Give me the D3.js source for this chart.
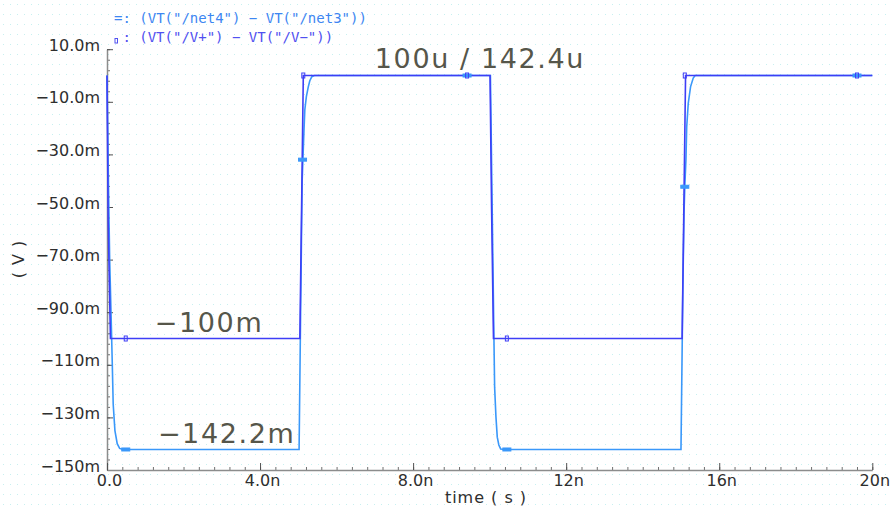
<!DOCTYPE html>
<html>
<head>
<meta charset="utf-8">
<script src="https://cdn.jsdelivr.net/npm/d3@7"></script>
<style>
  html, body { margin: 0; padding: 0; background: #ffffff; }
  svg { display: block; }
</style>
</head>
<body>
<svg id="chart" width="892" height="514"></svg>
<script>
// ---- data (time in ns, voltage in mV) ----
const darkTime  = [0, 0.03, 0.09, 5.04, 5.09, 5.13, 10.01, 10.05, 10.1, 15.03, 15.08, 15.12, 20];
const darkValue = [0, -55, -100, -100, -45, 0, 0, -50, -100, -100, -45, 0, 0];

const lightTime  = [0, 0.04, 0.07, 0.11, 0.137, 0.162, 0.207, 0.267, 0.33, 0.42,
                    5.02, 5.06, 5.1, 5.12, 5.15, 5.17, 5.21, 5.26, 5.3, 5.35, 5.42,
                    10.02, 10.07, 10.112, 10.13, 10.165, 10.199, 10.24, 10.288, 10.4,
                    15.0, 15.05, 15.08, 15.1, 15.13, 15.15, 15.19, 15.25, 15.32, 15.37, 20];
const lightValue = [0, -43, -70, -93, -109, -125, -135, -140, -141.8, -142.2,
                    -142.2, -90, -40, -32, -20, -13, -8, -4.3, -2, -0.5, 0,
                    0, -55, -100, -118.5, -129.9, -137.5, -140.5, -142, -142.2,
                    -142.2, -80, -52, -42.3, -32, -19.5, -10.6, -4.3, -1, 0, 0];

const darkMarkTime   = [0.49, 5.13, 9.41, 10.45, 15.1, 19.6];
const darkMarkValue  = [-100, 0, 0, -100, 0, 0];
const lightMarkTime  = [0.49, 5.11, 9.41, 10.45, 15.1, 19.6];
const lightMarkValue = [-142.2, -32, 0, -142.2, -42.3, 0];

const yTickValues = [10, -10, -30, -50, -70, -90, -110, -130, -150];
const yTickLabels = ["10.0m", "\u221210.0m", "\u221230.0m", "\u221250.0m", "\u221270.0m",
                     "\u221290.0m", "\u2212110m", "\u2212130m", "\u2212150m"];
const xTickValues = [0, 4, 8, 12, 16, 20];
const xTickLabels = ["0.0", "4.0n", "8.0n", "12n", "16n", "20n"];

const legendLabels = ["=: (VT(\"/net4\") \u2212 VT(\"/net3\"))",
                      ": (VT(\"/V+\") \u2212 VT(\"/V\u2212\"))"];
const annotations = [
  {text: "100u / 142.4u", t: 7.0, v: 2.8},
  {text: "\u2212100m", t: 1.25, v: -97.6},
  {text: "\u2212142.2m", t: 1.33, v: -139.9}
];

// ---- layout ----
const svg = d3.select("#chart");
const colDark = "#3e3ef6";
const colLight = "#3a98fa";
const textCol = "#2e2e2e";
const annCol = "#56564a";

const x = d3.scaleLinear().domain([0, 20]).range([107, 872.3]);
const y = d3.scaleLinear().domain([10, -150]).range([49.2, 470]);

// background dotted grid
const defs = svg.append("defs");
const pat = defs.append("pattern").attr("id", "dots")
  .attr("patternUnits", "userSpaceOnUse").attr("width", 7).attr("height", 10);
pat.append("rect").attr("x", 3).attr("y", 4).attr("width", 1).attr("height", 1)
  .attr("fill", "#c6f0f0");
svg.append("rect").attr("width", 892).attr("height", 514).attr("fill", "#ffffff");
svg.append("rect").attr("width", 892).attr("height", 514).attr("fill", "url(#dots)");

// axes
const fontMain = "'DejaVu Sans', sans-serif";

const yMinor = d3.range(10, -150.01, -4);
svg.append("g").attr("transform", `translate(${x(0)},0)`)
  .call(d3.axisLeft(y).tickValues(yMinor).tickSizeInner(-3).tickSizeOuter(0).tickFormat(""))
  .call(g => g.select(".domain").remove())
  .call(g => g.selectAll("line").attr("stroke", "#707070"));

const yAxis = svg.append("g").attr("transform", `translate(${x(0)},0)`)
  .call(d3.axisLeft(y).tickValues(yTickValues).tickSizeInner(-6).tickSizeOuter(0)
        .tickPadding(7).tickFormat((d, i) => yTickLabels[i]));
yAxis.select(".domain").attr("stroke", "#8c8c8c").attr("stroke-width", 1.5);
yAxis.selectAll("line").attr("stroke", "#505050");
yAxis.selectAll("text").attr("font-family", fontMain).attr("font-size", 16)
  .attr("fill", textCol).attr("y", -4);

const xMinor = d3.range(0, 20.001, 0.4);
svg.append("g").attr("transform", `translate(0,${y(-150)})`)
  .call(d3.axisBottom(x).tickValues(xMinor).tickSizeInner(-3).tickSizeOuter(0).tickFormat(""))
  .call(g => g.select(".domain").remove())
  .call(g => g.selectAll("line").attr("stroke", "#707070"));

const xAxis = svg.append("g").attr("transform", `translate(0,${y(-150)})`)
  .call(d3.axisBottom(x).tickValues(xTickValues).tickSizeInner(-7).tickSizeOuter(0)
        .tickPadding(5).tickFormat((d, i) => xTickLabels[i]));
xAxis.select(".domain").attr("stroke", "#8c8c8c").attr("stroke-width", 1.5);
xAxis.selectAll("line").attr("stroke", "#505050");
xAxis.selectAll("text").attr("font-family", fontMain).attr("font-size", 16)
  .attr("fill", textCol).attr("dx", 2);

// axis titles
svg.append("text").attr("x", 486).attr("y", 503).attr("text-anchor", "middle")
  .attr("font-family", fontMain).attr("font-size", 16).attr("letter-spacing", 1)
  .attr("fill", textCol).text("time ( s )");
svg.append("text").attr("transform", "translate(24,259) rotate(-90)")
  .attr("text-anchor", "middle").attr("font-family", fontMain).attr("font-size", 16)
  .attr("letter-spacing", 1).attr("fill", textCol).text("( V )");

// lines
const lightData = lightTime.map((t, i) => [t, lightValue[i]]);
const darkData = darkTime.map((t, i) => [t, darkValue[i]]);
const line = d3.line().x(d => x(d[0])).y(d => y(d[1]));

svg.append("path").datum(lightData).attr("d", line).attr("fill", "none")
  .attr("stroke", colLight).attr("stroke-width", 1.6);
svg.append("path").datum(darkData).attr("d", line).attr("fill", "none")
  .attr("stroke", colDark).attr("stroke-width", 1.6);

// markers
svg.append("g").selectAll("rect").data(lightMarkTime).join("rect")
  .attr("x", d => x(d) - 4).attr("y", (d, i) => y(lightMarkValue[i]) - 1.5)
  .attr("width", 8).attr("height", 3)
  .attr("fill", colLight).attr("stroke", colLight).attr("stroke-width", 1);
svg.append("g").selectAll("rect").data(darkMarkTime).join("rect")
  .attr("x", d => x(d) - 1.5).attr("y", (d, i) => y(darkMarkValue[i]) - 2.5)
  .attr("width", 3).attr("height", 5)
  .attr("fill", "none").attr("stroke", colDark).attr("stroke-width", 1);

// annotations
svg.append("g").selectAll("text").data(annotations).join("text")
  .attr("x", d => x(d.t)).attr("y", d => y(d.v))
  .attr("font-family", fontMain).attr("font-size", 27).attr("letter-spacing", 1.6)
  .attr("fill", annCol).text(d => d.text);

// legend
const fontMono = "'DejaVu Sans Mono', monospace";
svg.append("text").attr("x", 114).attr("y", 22.7)
  .attr("font-family", fontMono).attr("font-size", 14).attr("fill", "#3d86f2")
  .text(legendLabels[0]);
svg.append("rect").attr("x", 115).attr("y", 38.5).attr("width", 2.5).attr("height", 4.5)
  .attr("fill", "none").attr("stroke", "#5050f0").attr("stroke-width", 1);
svg.append("text").attr("x", 122.4).attr("y", 42)
  .attr("font-family", fontMono).attr("font-size", 14).attr("fill", "#5050f0")
  .text(legendLabels[1]);
</script>
</body>
</html>
